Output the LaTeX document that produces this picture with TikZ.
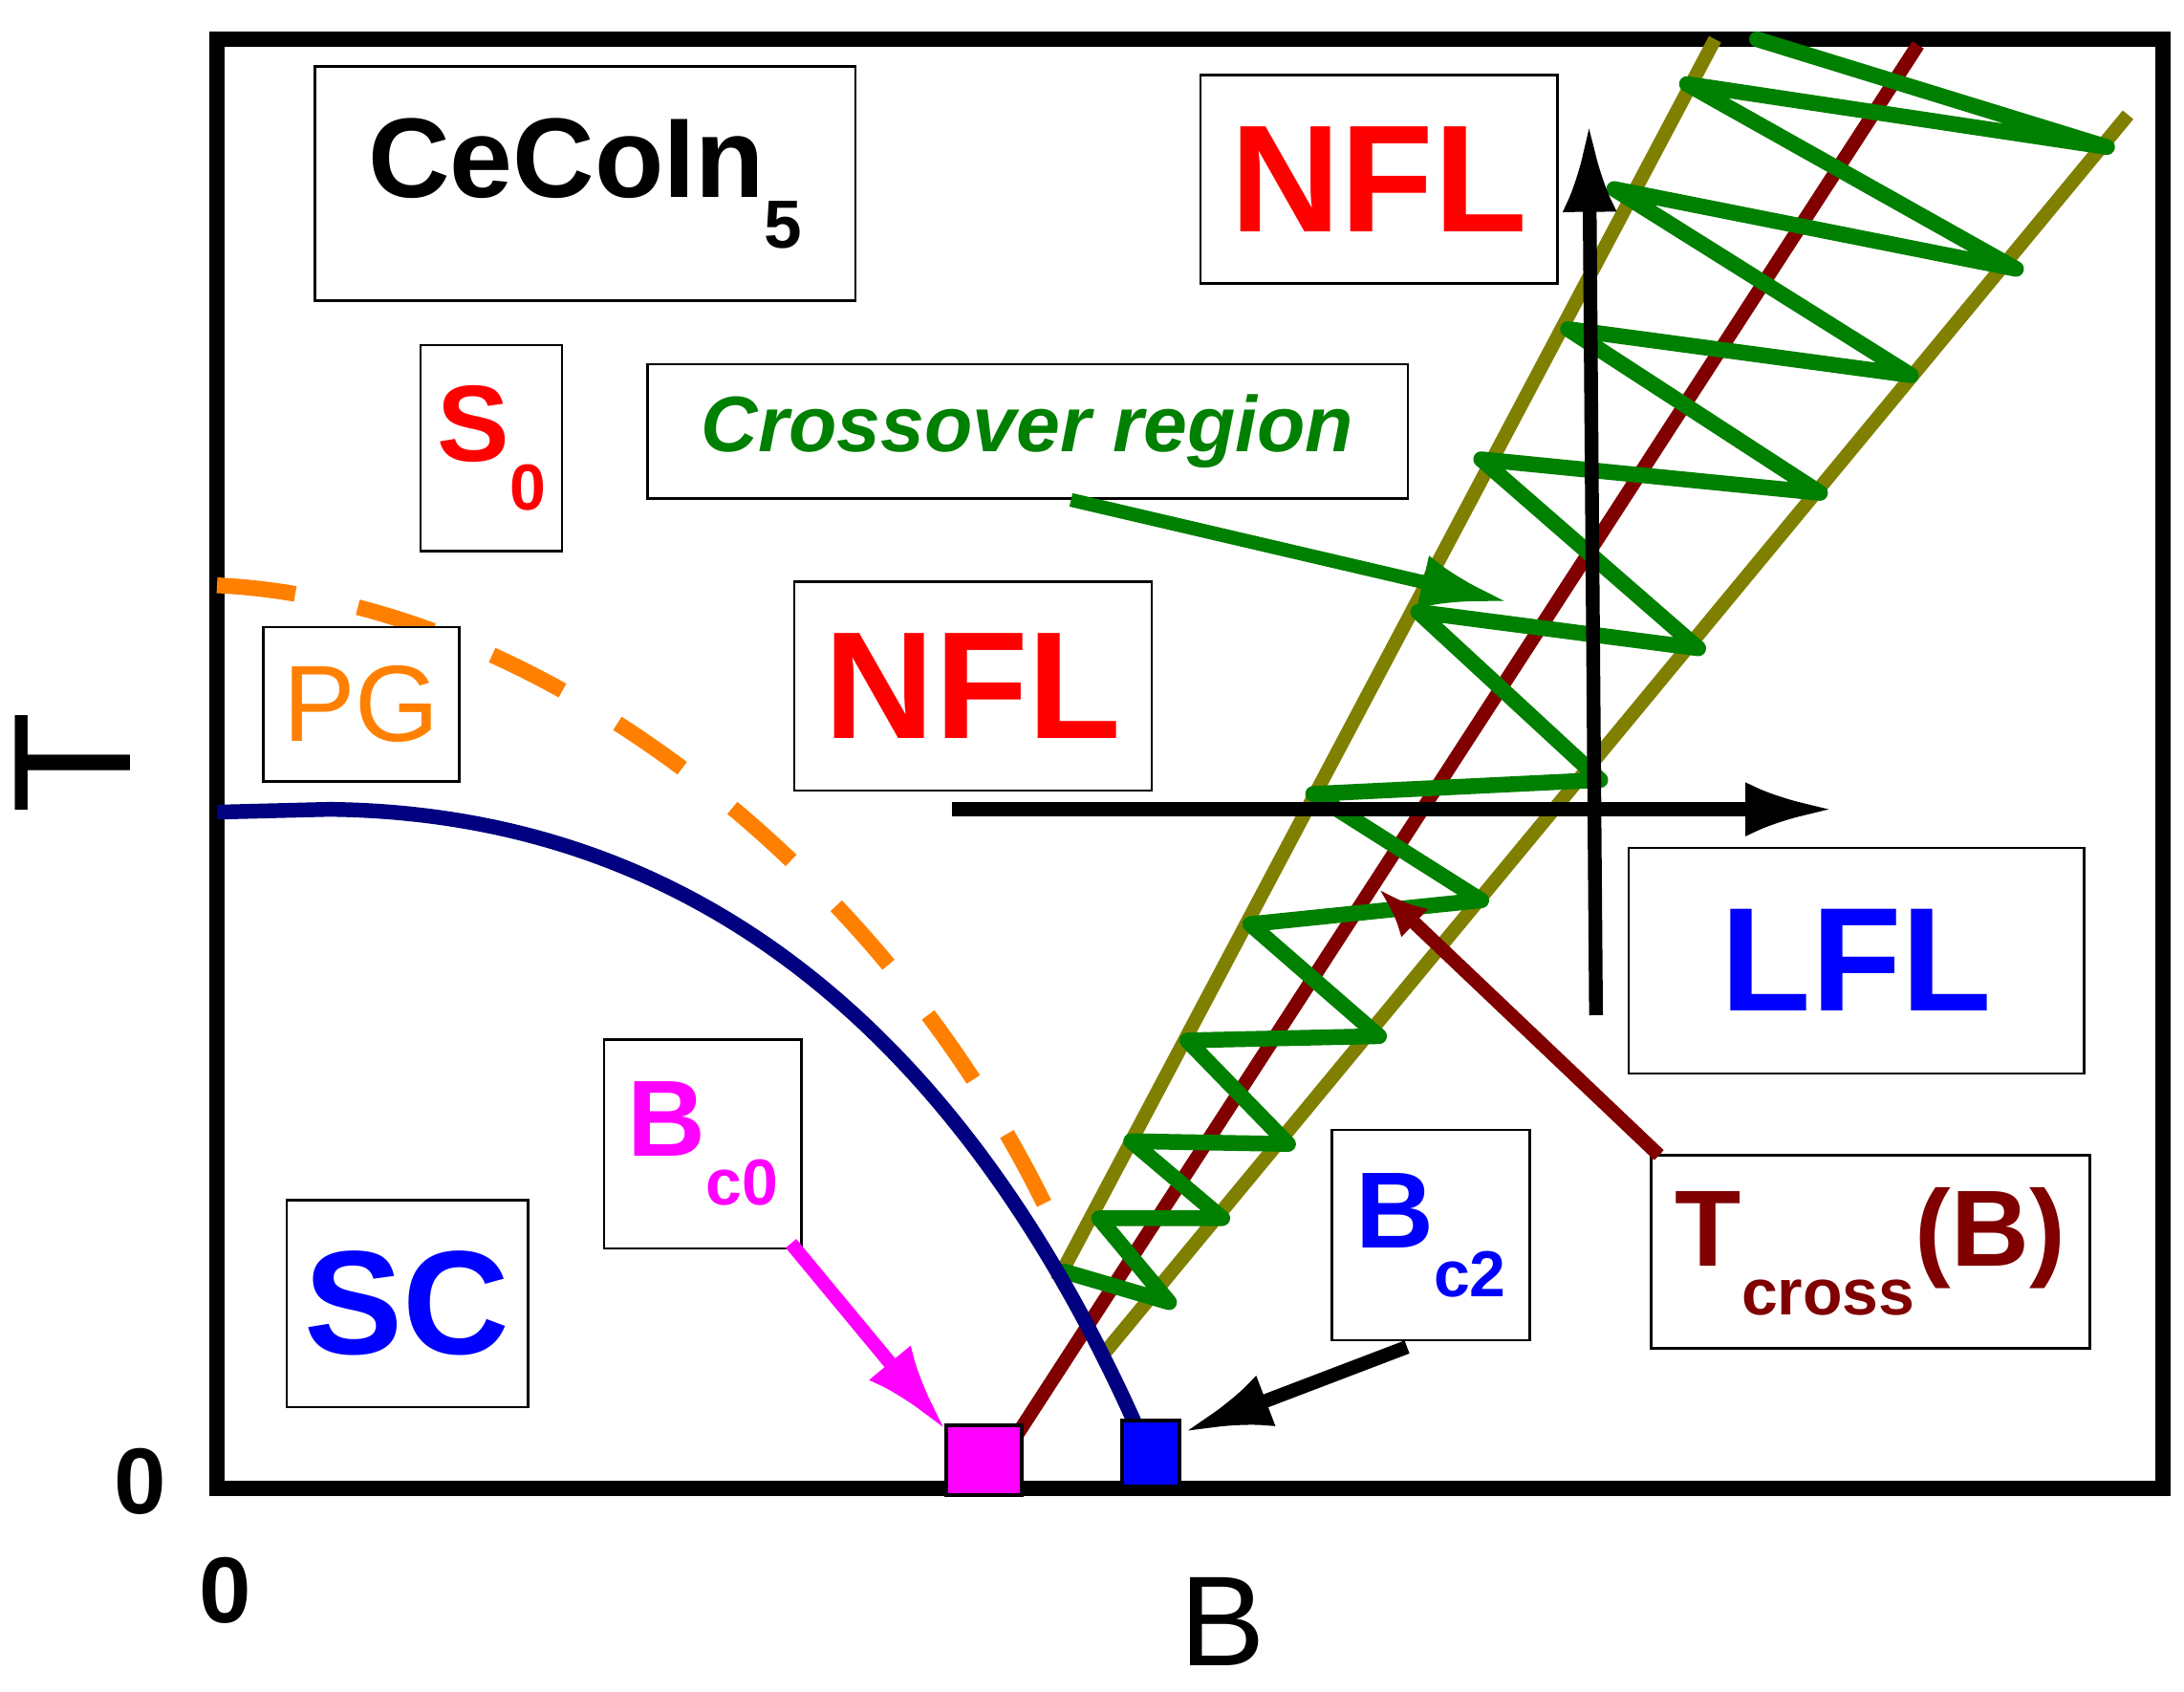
\documentclass[tikz,border=0pt]{standalone}
\usepackage{fontspec}
\setmainfont{Liberation Sans}
\usetikzlibrary{arrows.meta}
\newcommand{\lowsub}[1]{\raisebox{-0.45em}{\fontsize{0.6em}{0.6em}\selectfont #1}}
\definecolor{navyc}{RGB}{0,0,128}
\definecolor{olivec}{RGB}{128,128,0}
\definecolor{dredc}{RGB}{128,0,0}
\definecolor{greenc}{RGB}{0,128,0}
\definecolor{orangec}{RGB}{255,128,0}
\definecolor{magc}{RGB}{255,0,255}
\begin{document}
\begin{tikzpicture}[x=0.01cm,y=-0.01cm,
  box/.style={draw=black,line width=0.5pt,fill=white,inner sep=0pt},
  arr/.style={line width=2.8pt,-{Latex[length=18pt,width=11pt]}}]
\useasboundingbox (0,0) rectangle (1560,1208);
% frame
\draw[line width=3.2pt] (155,28) rectangle (1545,1063);
% axis labels
\node[font=\fontsize{34}{34}\selectfont,rotate=90] (tl) at (52,545) {T};
\node[font=\bfseries\fontsize{19}{19}\selectfont] (z1) at (100,1058) {0};
\node[font=\bfseries\fontsize{19}{19}\selectfont] (z2) at (161,1136) {0};
\node[font=\fontsize{26}{26}\selectfont] (bl) at (873,1158) {B};
% olive lines
\coordinate (ol1) at (755,915); \coordinate (ol2) at (1225,28);
\coordinate (or1) at (790,965); \coordinate (or2) at (1520,82);
\draw[olivec,line width=2.8pt] (ol1) -- (ol2);
\draw[olivec,line width=2.8pt] (or1) -- (or2);
% dark red line
\coordinate (dr1) at (723,1030); \coordinate (dr2) at (1370,32);
\draw[dredc,line width=2.8pt] (dr1) -- (dr2);
% green zigzag
\draw[greenc,line width=3.2pt,line join=round,line cap=round] (760,908)--(835,930)--(785,870)--(873,870)--(808,815)--(920,817)--(848,743)--(985,740)--(893,660)--(1058,643)--(938,567)--(1143,557)--(1013,437)--(1213,463)--(1058,328)--(1300,352)--(1120,235)--(1365,268)--(1153,135)--(1440,192)--(1205,60)--(1505,105)--(1255,28);
% black axes arrows
\coordinate (ha) at (680,578); \coordinate (hb) at (1310,578);
\coordinate (va) at (1140,725); \coordinate (vb) at (1135,88);
\draw[arr] (ha) -- (hb);
\draw[arr] (va) -- (vb);
% SC curve
\draw[navyc,line width=3pt] (155,580) -- (235,578) .. controls (420,580) and (650,660) .. (810,1015);
% orange dashed
\draw[orangec,line width=3.2pt,dash pattern=on 16pt off 13pt] (155,418) .. controls (400,430) and (650,640) .. (760,890);
% boxes
\node[box,minimum width=3.86cm,minimum height=1.67cm,font=\bfseries\fontsize{23}{23}\selectfont] (ce) at (418,131) {CeCoIn\lowsub{5}};
\node[box,minimum width=1.01cm,minimum height=1.47cm,text=red,font=\bfseries\fontsize{22}{22}\selectfont] (s0) at (351,320) {S\lowsub{0}};
\node[box,minimum width=5.43cm,minimum height=0.96cm,text=greenc,font=\bfseries\itshape\fontsize{16}{16}\selectfont] (cr) at (734,308) {Crossover region};
\node[box,minimum width=2.55cm,minimum height=1.49cm,text=red,font=\bfseries\fontsize{31}{31}\selectfont] (nfl1) at (695,490) {NFL};
\node[box,minimum width=2.55cm,minimum height=1.49cm,text=red,font=\bfseries\fontsize{31}{31}\selectfont] (nfl2) at (985,128) {NFL};
\node[box,minimum width=1.4cm,minimum height=1.1cm,text=orangec,font=\fontsize{22}{22}\selectfont] (pg) at (258,503) {PG};
\node[box,minimum width=3.25cm,minimum height=1.61cm,text=blue,font=\bfseries\fontsize{30}{30}\selectfont] (lfl) at (1326,686) {LFL};
\node[box,minimum width=1.41cm,minimum height=1.49cm,text=magc,font=\bfseries\fontsize{22}{22}\selectfont] (bc0) at (502,817) {B\lowsub{c0}};
\node[box,minimum width=1.72cm,minimum height=1.48cm,text=blue,font=\bfseries\fontsize{30}{30}\selectfont] (sc) at (291,931) {SC};
\node[box,minimum width=1.41cm,minimum height=1.5cm,text=blue,font=\bfseries\fontsize{22}{22}\selectfont] (bc2) at (1022,882) {B\lowsub{c2}};
\node[box,minimum width=3.13cm,minimum height=1.38cm,text=dredc,font=\bfseries\fontsize{22}{22}\selectfont] (tc) at (1336,894) {T\lowsub{cross}(B)};
% pointer arrows
\coordinate (ga) at (765,357); \coordinate (gb) at (1078,430);
\draw[arr,greenc] (ga) -- (gb);
\coordinate (ma) at (565,888); \coordinate (mb) at (676,1022);
\draw[arr,magc] (ma) -- (mb);
\coordinate (ka) at (1005,962); \coordinate (kb) at (845,1023);
\draw[arr] (ka) -- (kb);
\coordinate (ta) at (1185,825); \coordinate (tb) at (985,635);
\draw[dredc,line width=2.8pt,-{Latex[length=10pt,width=8pt]}] (ta) -- (tb);
% squares
\node[draw=black,line width=0.8pt,fill=magc,minimum width=0.54cm,minimum height=0.5cm,inner sep=0pt] (sq1) at (703,1043) {};
\node[draw=black,line width=0.8pt,fill=blue,minimum width=0.41cm,minimum height=0.47cm,inner sep=0pt] (sq2) at (822,1038) {};
\end{tikzpicture}
\end{document}
